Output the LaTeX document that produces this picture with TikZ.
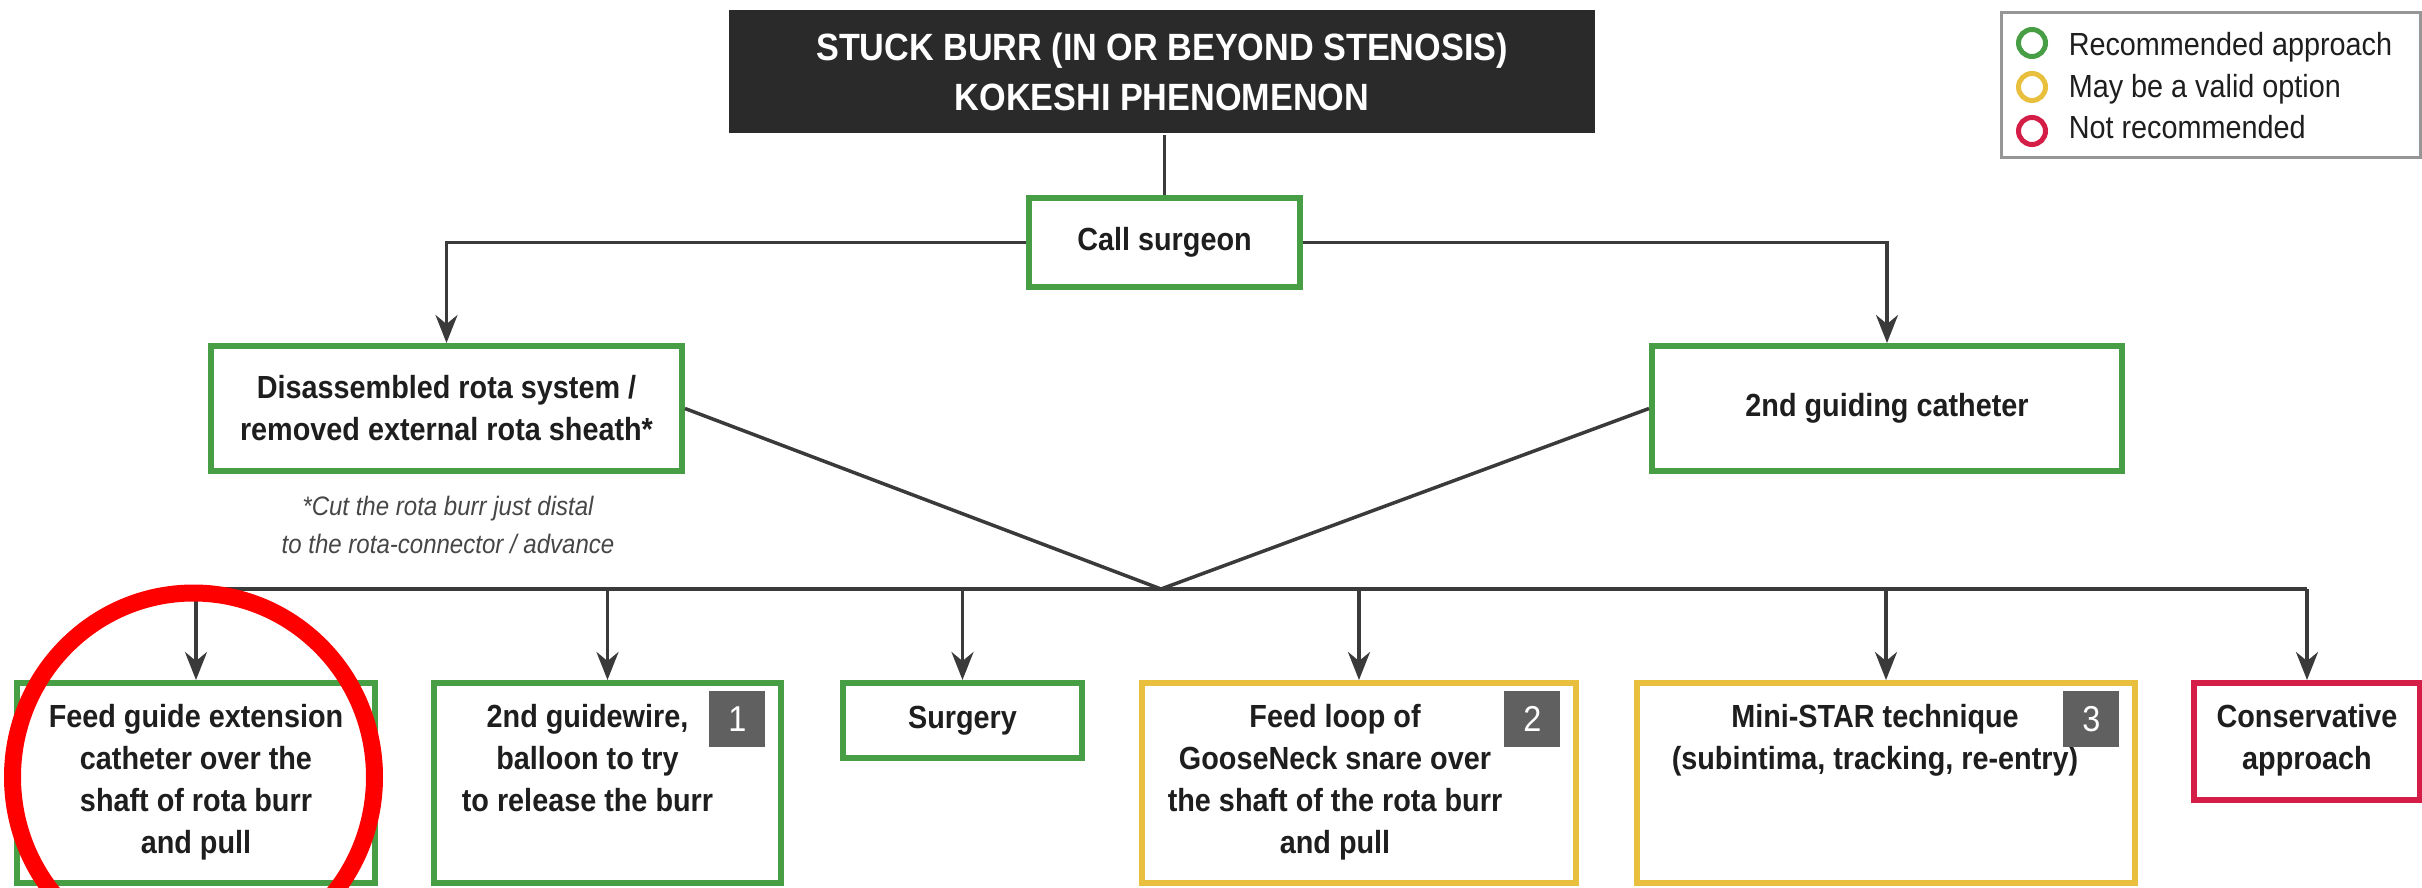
\documentclass[tikz,border=0pt]{standalone}
\usepackage{fontspec}
\setmainfont{Liberation Sans}[FakeStretch=0.9]
\usetikzlibrary{arrows.meta}

\definecolor{titlegray}{RGB}{42,42,42}
\definecolor{recgreen}{RGB}{72,158,68}
\definecolor{validyellow}{RGB}{232,192,62}
\definecolor{notred}{RGB}{212,30,72}
\definecolor{linegray}{RGB}{58,58,58}
\definecolor{textdark}{RGB}{30,30,30}
\definecolor{notegray}{RGB}{70,70,70}
\definecolor{badgegray}{RGB}{96,96,96}
\definecolor{framegray}{RGB}{150,150,150}

\tikzset{every picture/.style={line width=3.5pt}}
\tikzset{
  stepbox/.style={rectangle, fill=white, line width=6pt, inner sep=0pt, align=center, text=textdark, font=\fontsize{32}{42}\selectfont\bfseries},
  recbox/.style={stepbox, draw=recgreen},
  validbox/.style={stepbox, draw=validyellow},
  notbox/.style={stepbox, draw=notred},
  boxtext/.style={anchor=north, inner sep=0pt, align=center, text=textdark, font=\fontsize{32}{42}\selectfont\bfseries},
  badge/.style={anchor=north east, fill=badgegray, minimum size=56pt, inner sep=0pt, text=white, font=\fontsize{36}{36}\selectfont},
  link/.style={draw=linegray, line width=3.5pt},
  arrowlink/.style={link, -{Stealth[length=28pt,width=22pt,inset=9pt]}},
  ring/.style={circle, draw, line width=5pt, minimum size=27pt, inner sep=0pt},
  legendtext/.style={anchor=base west, inner sep=0pt, text=textdark, font=\fontsize{32}{42}\selectfont},
}

\begin{document}
\begin{tikzpicture}[x=1pt,y=1pt,yscale=-1,xscale=1]
    \useasboundingbox (0,0) rectangle (2422,887);
    \clip (0,0) rectangle (2422,887);

    % Title
    \node (title) [fill=titlegray, minimum width=866pt, minimum height=123pt, inner sep=0pt, align=center, text=white, font=\fontsize{38}{50}\selectfont\bfseries] at (1162,71.5) {STUCK BURR (IN OR BEYOND STENOSIS)\\KOKESHI PHENOMENON};

    % Legend
    \node (legend) [draw=framegray, line width=3pt, minimum width=419pt, minimum height=145pt] at (2210.5,84.5) {};
    \node (ringrec) [ring, draw=recgreen] at (2032,43) {};
    \node (ringvalid) [ring, draw=validyellow] at (2032,87) {};
    \node (ringnot) [ring, draw=notred] at (2032,131) {};
    \node (legrec) [legendtext] at (2067,55) {Recommended approach};
    \node (legvalid) [legendtext] at (2067,97) {May be a valid option};
    \node (legnot) [legendtext] at (2067,138) {Not recommended};

    % First steps
    \node (call) [recbox, minimum width=271pt, minimum height=89pt] at (1164.5,242.5) {Call surgeon};
    \node (dis) [recbox, minimum width=471pt, minimum height=125pt] at (446.5,408.5) {Disassembled rota system /\\removed external rota sheath*};
    \node (guide) [recbox, minimum width=470pt, minimum height=125pt] at (1887,408.5) {2nd guiding catheter};
    \node (note) [align=center, inner sep=0pt, text=notegray, font=\fontsize{26.7}{38}\selectfont\itshape] at (448,525) {*Cut the rota burr just distal\\to the rota-connector / advance};
    \coordinate (split) at (1161,589);

    % Options
    \node (feed) [recbox, minimum width=358pt, minimum height=200pt] at (196,783) {};
    \node (wire) [recbox, minimum width=347pt, minimum height=200pt] at (607.5,783) {};
    \node (surgery) [recbox, minimum width=239pt, minimum height=75pt] at (962.5,720.5) {Surgery};
    \node (snare) [validbox, minimum width=434pt, minimum height=200pt] at (1359,783) {};
    \node (star) [validbox, minimum width=498pt, minimum height=200pt] at (1886,783) {};
    \node (cons) [notbox, minimum width=226pt, minimum height=117pt] at (2307,741.5) {};

    % Text Node
    \node (feedtext) [boxtext] at ([yshift=23pt]feed.north) {Feed guide extension\\catheter over the\\shaft of rota burr\\and pull};
    \node (wiretext) [boxtext] at ([xshift=-20pt,yshift=23pt]wire.north) {2nd guidewire,\\balloon to try\\to release the burr};
    \node (snaretext) [boxtext] at ([xshift=-24pt,yshift=23pt]snare.north) {Feed loop of\\GooseNeck snare over\\the shaft of the rota burr\\and pull};
    \node (startext) [boxtext] at ([xshift=-11pt,yshift=23pt]star.north) {Mini-STAR technique\\(subintima, tracking, re-entry)};
    \node (constext) [boxtext] at ([yshift=23pt]cons.north) {Conservative\\approach};

    % Badges
    \node (badge1) [badge] at ([xshift=-17pt,yshift=9pt]wire.north east) {1};
    \node (badge2) [badge] at ([xshift=-17pt,yshift=9pt]snare.north east) {2};
    \node (badge3) [badge] at ([xshift=-17pt,yshift=9pt]star.north east) {3};

    % Connectors
    \draw [link] (title.south -| call.north) -- (call.north);
    \draw [arrowlink] (call.west) -| (dis.north);
    \draw [arrowlink] (call.east) -| (guide.north);
    \draw [link] (dis.east) -- (split) -- (guide.west);
    \draw [link] (feed.north |- split) -- (cons.north |- split);
    \foreach \target in {feed,wire,surgery,snare,star,cons}
        \draw [arrowlink] (\target.north |- split) -- (\target.north);

    % Highlight
    \draw [red, line width=17pt] (193.5,777) ellipse [x radius=181pt, y radius=184pt];
\end{tikzpicture}
\end{document}
